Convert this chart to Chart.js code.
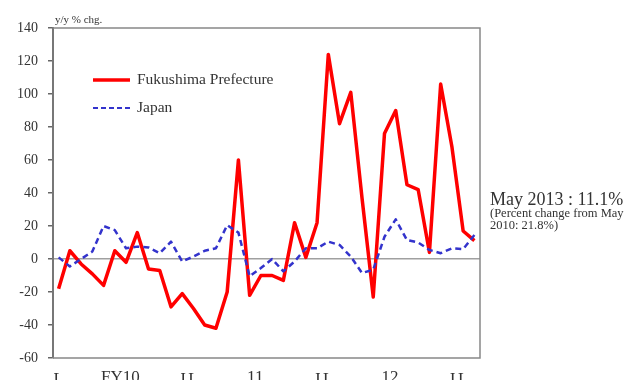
<!DOCTYPE html>
<html>
<head>
<meta charset="utf-8">
<script src="https://cdn.jsdelivr.net/npm/chart.js@4/dist/chart.umd.min.js"></script>
<style>
  html, body { margin: 0; padding: 0; background: #fff; overflow: hidden; }
  #wrap { width: 629px; height: 400px; }
</style>
</head>
<body>
<div id="wrap"><canvas id="priceChart" width="629" height="400"></canvas></div>
<script>
// Monthly, Apr 2010 - May 2013
const months = [
  'Apr-10', 'May-10', 'Jun-10', 'Jul-10', 'Aug-10', 'Sep-10', 'Oct-10', 'Nov-10', 'Dec-10', 'Jan-11', 'Feb-11', 'Mar-11',
  'Apr-11', 'May-11', 'Jun-11', 'Jul-11', 'Aug-11', 'Sep-11', 'Oct-11', 'Nov-11', 'Dec-11', 'Jan-12', 'Feb-12', 'Mar-12',
  'Apr-12', 'May-12', 'Jun-12', 'Jul-12', 'Aug-12', 'Sep-12', 'Oct-12', 'Nov-12', 'Dec-12', 'Jan-13', 'Feb-13', 'Mar-13',
  'Apr-13', 'May-13'
];

// y/y % change
const fukushima = [
  -18, 5, -3, -9, -16, 5, -2, 16, -6, -7, -29, -21,
  -30, -40, -42, -20, 60, -22, -10, -10, -13, 22, 1, 22,
  124, 82, 101, 37, -23, 76, 90, 45, 42, 4, 106, 68,
  17, 11.1
];
const japan = [
  1, -4.5, 0, 4.5, 20, 17.5, 6.5, 7.5, 7, 3.5, 10.5, -1.5,
  1.5, 5, 6.5, 20.5, 16, -10.5, -5.5, 0, -7.5, -1.5, 6.5, 6.5,
  10.5, 8.5, 1.5, -8.5, -6.5, 13.5, 24, 11.5, 10, 5.5, 3.5, 6.5,
  6, 14.5
];

// month marks under the axis and fiscal year captions
const monthMarks = ['L', '', '', '', '', '', '', '', '', '', '', 'J',
  'L', '', '', '', '', '', '', '', '', '', '', 'J',
  'L', '', '', '', '', '', '', '', '', '', '', 'J',
  'L', ''];
const fiscalYears = ['FY10', '11', '12'];
const fiscalStarts = [0, 12, 24];

const yTicks = { min: -60, max: 140, step: 20 };

const serif = '"Liberation Serif", "Times New Roman", serif';
const textColor = '#333';

const extras = {
  id: 'extras',
  afterDraw(chart) {
    const { ctx, chartArea: a, scales } = chart;
    ctx.save();

    // frame top / right / bottom
    ctx.strokeStyle = '#888';
    ctx.lineWidth = 1.5;
    ctx.beginPath();
    ctx.moveTo(a.left, a.top);
    ctx.lineTo(a.right, a.top);
    ctx.lineTo(a.right, a.bottom);
    ctx.lineTo(a.left, a.bottom);
    ctx.stroke();

    // unit caption
    ctx.fillStyle = textColor;
    ctx.font = '11px ' + serif;
    ctx.textBaseline = 'alphabetic';
    ctx.textAlign = 'left';
    ctx.fillText('y/y % chg.', a.left + 2, a.top - 5);

    // legend
    const lx = a.left + 40, lw = 37;
    ctx.lineWidth = 3.5;
    ctx.strokeStyle = '#ff0000';
    ctx.beginPath(); ctx.moveTo(lx, 80); ctx.lineTo(lx + lw, 80); ctx.stroke();
    ctx.lineWidth = 2;
    ctx.strokeStyle = '#3333cc';
    ctx.setLineDash([5, 3]);
    ctx.beginPath(); ctx.moveTo(lx, 108); ctx.lineTo(lx + lw + 3, 108); ctx.stroke();
    ctx.setLineDash([]);
    ctx.font = '15.5px ' + serif;
    ctx.textBaseline = 'middle';
    ctx.fillText('Fukushima Prefecture', lx + 44, 80);
    ctx.fillText('Japan', lx + 44, 108);

    // fiscal year captions centred on each year
    ctx.font = '17px ' + serif;
    ctx.textAlign = 'center';
    ctx.textBaseline = 'top';
    fiscalYears.forEach((t, i) => {
      const x = scales.x.getPixelForValue(fiscalStarts[i] + 5.5);
      ctx.fillText(t, x, a.bottom + 11);
    });

    // latest reading note
    ctx.textAlign = 'left';
    ctx.textBaseline = 'alphabetic';
    ctx.font = '18px ' + serif;
    ctx.fillText('May 2013 : 11.1%', a.right + 10, 205);
    ctx.font = '12.5px ' + serif;
    ctx.fillText('(Percent change from May', a.right + 10, 217);
    ctx.fillText('2010: 21.8%)', a.right + 10, 229);

    ctx.restore();
  }
};

new Chart(document.getElementById('priceChart'), {
  type: 'line',
  data: {
    labels: months,
    datasets: [
      {
        label: 'Japan',
        data: japan,
        borderColor: '#3333cc',
        borderWidth: 2.5,
        borderDash: [6, 4],
        borderJoinStyle: 'round',
        pointRadius: 0,
        tension: 0,
        fill: false
      },
      {
        label: 'Fukushima Prefecture',
        data: fukushima,
        borderColor: '#ff0000',
        borderWidth: 3.5,
        borderJoinStyle: 'round',
        pointRadius: 0,
        tension: 0,
        fill: false
      }
    ]
  },
  options: {
    responsive: false,
    animation: false,
    devicePixelRatio: 1,
    layout: { padding: { top: 28, right: 149, left: 0, bottom: 0 } },
    plugins: { legend: { display: false }, tooltip: { enabled: false } },
    scales: {
      x: {
        offset: true,
        grid: { display: false, drawTicks: false },
        border: { display: false },
        afterFit(scale) { scale.height = 42; },
        ticks: {
          autoSkip: false,
          maxRotation: 0,
          minRotation: 0,
          padding: 11,
          color: textColor,
          font: { family: serif, size: 17 },
          callback: (v, i) => monthMarks[i]
        }
      },
      y: {
        min: yTicks.min,
        max: yTicks.max,
        afterFit(scale) { scale.width = 53; },
        border: { display: true, color: '#777', width: 2 },
        grid: {
          color: c => (c.tick && c.tick.value === 0 ? '#a0a0a0' : 'rgba(0,0,0,0)'),
          lineWidth: 1.5,
          tickColor: '#666',
          tickLength: 5,
          tickWidth: 1.5
        },
        ticks: {
          stepSize: yTicks.step,
          padding: 10,
          color: textColor,
          font: { family: serif, size: 14 }
        }
      }
    }
  },
  plugins: [extras]
});
</script>
</body>
</html>
